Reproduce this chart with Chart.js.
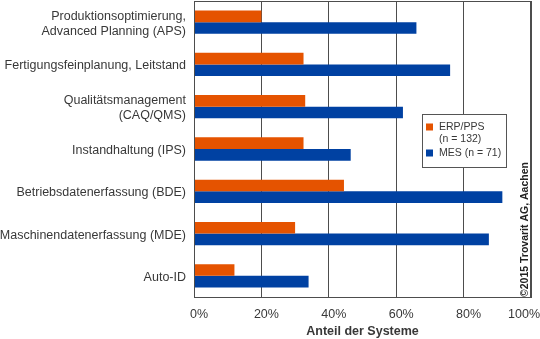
<!DOCTYPE html>
<html>
<head>
<meta charset="utf-8">
<script src="https://cdn.jsdelivr.net/npm/chart.js@4/dist/chart.umd.min.js"></script>
<style>
  body { margin: 0; background: #fff; }
  canvas { display: block; }
</style>
</head>
<body>
<canvas id="system-chart" width="540" height="339"></canvas>
<script>
  // data (percent of systems)
  const gCategories = [
    ['Produktionsoptimierung,', 'Advanced Planning (APS)'],
    'Fertigungsfeinplanung, Leitstand',
    ['Qualitätsmanagement', '(CAQ/QMS)'],
    'Instandhaltung (IPS)',
    'Betriebsdatenerfassung (BDE)',
    'Maschinendatenerfassung (MDE)',
    'Auto-ID',
  ];
  const gErpValues = [20, 32.5, 33, 32.5, 44.5, 30, 12];
  const gMesValues = [66, 76, 62, 46.5, 91.5, 87.5, 34];
  const gSeriesLabels = [['ERP/PPS', '(n = 132)'], ['MES (n = 71)']];
  const gXTickValues = [0, 20, 40, 60, 80, 100];
  const gXTickLabels = ['0%', '20%', '40%', '60%', '80%', '100%'];
  const gAxisTitle = 'Anteil der Systeme';
  const gCopyright = '©2015 Trovarit AG, Aachen';

  const G_ORANGE = '#E55300';
  const G_BLUE = '#0041A2';
  const G_LINE = '#4d4d4d';
  const G_TEXT = '#383838';
  const G_FONT = 'Arial, "Liberation Sans", sans-serif';

  // frame, x tick labels, legend box and copyright
  const gDecorPlugin = {
    id: 'decor',
    afterDraw: function (paramChart) {
      let vCtx = paramChart.ctx;
      let vArea = paramChart.chartArea;
      let vScale = paramChart.scales.x;
      vCtx.save();

      // plot frame
      vCtx.strokeStyle = G_LINE;
      vCtx.lineWidth = 1;
      vCtx.strokeRect(Math.round(vArea.left) + 0.5, Math.round(vArea.top) + 0.5,
        Math.round(vArea.right - vArea.left) - 1, Math.round(vArea.bottom - vArea.top));

      // x tick labels
      vCtx.font = '12.5px ' + G_FONT;
      vCtx.fillStyle = G_TEXT;
      vCtx.textAlign = 'center';
      vCtx.textBaseline = 'middle';
      gXTickValues.forEach(function (value, i) {
        let vText = gXTickLabels[i];
        let vW = vCtx.measureText(vText).width;
        let vX = Math.min(vScale.getPixelForValue(value) + 5, paramChart.width - vW / 2);
        vCtx.fillText(vText, vX, 315);
      });

      // legend
      let vBox = { x: 422.5, y: 114.5, w: 84, h: 53 };
      vCtx.fillStyle = '#ffffff';
      vCtx.fillRect(vBox.x, vBox.y, vBox.w, vBox.h);
      vCtx.strokeStyle = '#555555';
      vCtx.strokeRect(vBox.x, vBox.y, vBox.w, vBox.h);
      vCtx.font = '10.5px ' + G_FONT;
      vCtx.textAlign = 'left';
      let vRowY = [127.5, 153.5];
      paramChart.data.datasets.forEach(function (dataset, i) {
        vCtx.fillStyle = dataset.backgroundColor;
        vCtx.fillRect(426, vRowY[i] - 4, 7, 7);
        vCtx.fillStyle = G_TEXT;
        dataset.legendLines.forEach(function (line, j) {
          vCtx.fillText(line, 439, vRowY[i] + j * 12);
        });
      });

      // copyright, rotated
      vCtx.translate(525, 297);
      vCtx.rotate(-Math.PI / 2);
      vCtx.font = 'bold 10.5px ' + G_FONT;
      vCtx.fillStyle = '#222222';
      vCtx.textAlign = 'left';
      vCtx.fillText(gCopyright, 0, 0);
      vCtx.restore();
    },
  };

  let vCanvas = document.getElementById('system-chart').getContext('2d');

  new Chart(vCanvas, {
    type: 'bar',
    data: {
      labels: gCategories,
      datasets: [
        {
          label: gSeriesLabels[0].join(' '),
          legendLines: gSeriesLabels[0],
          data: gErpValues,
          backgroundColor: G_ORANGE,
        },
        {
          label: gSeriesLabels[1].join(' '),
          legendLines: gSeriesLabels[1],
          data: gMesValues,
          backgroundColor: G_BLUE,
        },
      ],
    },
    options: {
      indexAxis: 'y',
      responsive: false,
      devicePixelRatio: 1,
      animation: false,
      layout: { padding: { top: 1, right: 9, left: 0, bottom: 0 } },
      datasets: {
        bar: { categoryPercentage: 0.55, barPercentage: 1.0, borderWidth: 0 },
      },
      plugins: {
        legend: { display: false },
        tooltip: { enabled: false },
      },
      scales: {
        x: {
          min: 0,
          max: 100,
          ticks: { stepSize: 20, display: false },
          grid: { color: G_LINE, drawTicks: false },
          border: { display: true, color: G_LINE },
          title: {
            display: true,
            text: gAxisTitle,
            color: G_TEXT,
            font: { family: G_FONT, size: 12.5, weight: 'bold' },
            padding: { top: 0, bottom: 0 },
          },
          afterFit: function (paramScale) {
            paramScale.height = 42;
            paramScale.paddingLeft = 0;
            paramScale.paddingRight = 0;
          },
        },
        y: {
          grid: { display: false, drawTicks: false },
          border: { display: true, color: G_LINE },
          ticks: {
            color: G_TEXT,
            padding: 8,
            labelOffset: 1.5,
            font: { family: G_FONT, size: 12.5, lineHeight: 1.2 },
          },
          afterFit: function (paramScale) {
            paramScale.width = 194;
            paramScale.paddingTop = 0;
            paramScale.paddingBottom = 0;
          },
        },
      },
    },
    plugins: [gDecorPlugin],
  });
</script>
</body>
</html>
